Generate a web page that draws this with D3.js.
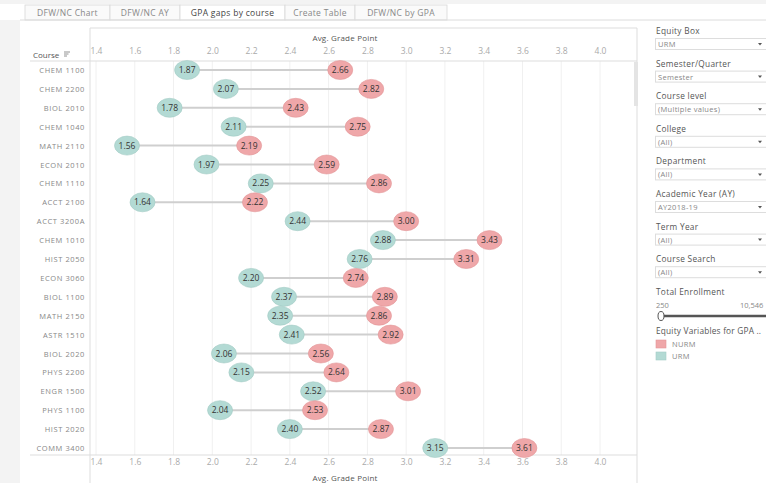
<!DOCTYPE html>
<html lang="en">
<head>
<meta charset="UTF-8">
<title>GPA gaps by course</title>
<script src="https://d3js.org/d3.v7.min.js"></script>
<style>
  body { margin: 0; background: #fff; }
  svg { display: block; font-family: "Open Sans", sans-serif; }
</style>
</head>
<body>
<div id="chart"></div>
<script>
// chart data
const courses = ["CHEM 1100", "CHEM 2200", "BIOL 2010", "CHEM 1040", "MATH 2110", "ECON 2010",
  "CHEM 1110", "ACCT 2100", "ACCT 3200A", "CHEM 1010", "HIST 2050", "ECON 3060", "BIOL 1100",
  "MATH 2150", "ASTR 1510", "BIOL 2020", "PHYS 2200", "ENGR 1500", "PHYS 1100", "HIST 2020", "COMM 3400"];
const urm = [1.87, 2.07, 1.78, 2.11, 1.56, 1.97, 2.25, 1.64, 2.44, 2.88, 2.76, 2.20, 2.37,
  2.35, 2.41, 2.06, 2.15, 2.52, 2.04, 2.40, 3.15];
const nurm = [2.66, 2.82, 2.43, 2.75, 2.19, 2.59, 2.86, 2.22, 3.00, 3.43, 3.31, 2.74, 2.89,
  2.86, 2.92, 2.56, 2.64, 3.01, 2.53, 2.87, 3.61];
const xTicks = [1.4, 1.6, 1.8, 2.0, 2.2, 2.4, 2.6, 2.8, 3.0, 3.2, 3.4, 3.6, 3.8, 4.0];
const tabs = ["DFW/NC Chart", "DFW/NC AY", "GPA gaps by course", "Create Table", "DFW/NC by GPA"];
const filterTitles = ["Equity Box", "Semester/Quarter", "Course level", "College", "Department",
  "Academic Year (AY)", "Term Year", "Course Search"];
const filterValues = ["URM", "Semester", "(Multiple values)", "(All)", "(All)", "AY2018-19", "(All)", "(All)"];
const legendLabels = ["NURM", "URM"];

const width = 766, height = 483;
const colURM = "#b3dad4", colNURM = "#efa7a9";

const svg = d3.select("#chart").append("svg")
  .attr("width", width).attr("height", height);

// background strips
svg.append("rect").attr("x", 0).attr("y", 0).attr("width", width).attr("height", 4).attr("fill", "#f3f3f3");
svg.append("rect").attr("x", 0).attr("y", 20).attr("width", 20).attr("height", height - 20).attr("fill", "#f3f3f3");

// tabs
const tabW = [85, 70, 105, 70, 92];
let tx = 25;
tabs.forEach((t, i) => {
  svg.append("rect").attr("x", tx).attr("y", 5).attr("width", tabW[i]).attr("height", 15)
    .attr("fill", i == 2 ? "#fff" : "#fafafa").attr("stroke", "#d8d8d8").attr("stroke-width", 0.8);
  svg.append("text").attr("x", tx + tabW[i] / 2).attr("y", 16).attr("text-anchor", "middle")
    .attr("font-size", 8.5).attr("letter-spacing", 0.3).attr("fill", i == 2 ? "#444" : "#888").text(t);
  tx += tabW[i];
});
svg.append("line").attr("x1", 20).attr("x2", width).attr("y1", 20).attr("y2", 20).attr("stroke", "#dcdcdc");

// scales
const x = d3.scaleLinear().domain([1.4, 4.0]).range([96, 600]);
const y = d3.scalePoint().domain(courses).range([70, 448]);

const plotL = 90, plotR = 637, headB = 61, axisY = 455;

// gridlines
svg.append("g").selectAll("line").data(xTicks).enter().append("line")
  .attr("x1", d => x(d)).attr("x2", d => x(d)).attr("y1", headB).attr("y2", axisY)
  .attr("stroke", "#f0f0f0");

// frame lines
svg.append("line").attr("x1", plotL).attr("x2", plotR).attr("y1", 28).attr("y2", 28).attr("stroke", "#ddd");
svg.append("line").attr("x1", plotL).attr("x2", plotL).attr("y1", 28).attr("y2", height).attr("stroke", "#ddd");
svg.append("line").attr("x1", plotR).attr("x2", plotR).attr("y1", 28).attr("y2", height).attr("stroke", "#ddd");
svg.append("line").attr("x1", 30).attr("x2", plotR).attr("y1", headB).attr("y2", headB).attr("stroke", "#ddd");
svg.append("line").attr("x1", 30).attr("x2", plotR).attr("y1", axisY).attr("y2", axisY).attr("stroke", "#ddd");

// scrollbar
svg.append("rect").attr("x", 634).attr("y", 62).attr("width", 4).attr("height", 44).attr("fill", "#e4e4e4");

// axis titles & ticks
svg.append("text").attr("x", 345).attr("y", 41).attr("text-anchor", "middle")
  .attr("font-size", 8).attr("letter-spacing", 0.2).attr("fill", "#555").text("Avg. Grade Point");
svg.append("text").attr("x", 345).attr("y", 481).attr("text-anchor", "middle")
  .attr("font-size", 8).attr("letter-spacing", 0.2).attr("fill", "#555").text("Avg. Grade Point");

const fmt = d3.format(".1f");
const topAxis = svg.append("g").attr("transform", "translate(0,54)")
  .call(d3.axisTop(x).tickValues(xTicks).tickFormat(fmt).tickSize(0).tickPadding(0));
const botAxis = svg.append("g").attr("transform", `translate(0,${axisY + 4})`)
  .call(d3.axisBottom(x).tickValues(xTicks).tickFormat(fmt).tickSize(0).tickPadding(0));
[topAxis, botAxis].forEach(a => {
  a.select(".domain").remove();
  a.selectAll("text").attr("font-size", 8.5).attr("fill", "#aaa").attr("font-family", "Open Sans, sans-serif");
});

// "Course" header with sort icon
svg.append("text").attr("x", 33).attr("y", 58).attr("font-size", 8).attr("fill", "#555").text("Course");
[6, 4.5, 3].forEach((w, i) => {
  svg.append("line").attr("x1", 64).attr("x2", 64 + w).attr("y1", 52 + i * 2).attr("y2", 52 + i * 2)
    .attr("stroke", "#777").attr("stroke-width", 0.8);
});

// row labels
svg.append("g").selectAll("text").data(courses).enter().append("text")
  .attr("x", 85).attr("y", d => y(d) + 3).attr("text-anchor", "end")
  .attr("font-size", 7.5).attr("letter-spacing", 0.6).attr("fill", "#888").text(d => d);

const rows = courses.map((c, i) => ({ course: c, urm: urm[i], nurm: nurm[i] }));

// connecting lines
svg.append("g").selectAll("line").data(rows).enter().append("line")
  .attr("x1", d => x(d.urm)).attr("x2", d => x(d.nurm))
  .attr("y1", d => y(d.course)).attr("y2", d => y(d.course))
  .attr("stroke", "#cfcfcf").attr("stroke-width", 2);

// dots
function drawDots(key, color, stroke) {
  const g = svg.append("g").selectAll("g").data(rows).enter().append("g")
    .attr("transform", d => `translate(${x(d[key])},${y(d.course)})`);
  g.append("ellipse").attr("rx", 12.5).attr("ry", 9.5)
    .attr("fill", color).attr("stroke", stroke).attr("stroke-width", 0.6);
  g.append("text").attr("y", 3).attr("text-anchor", "middle")
    .attr("font-size", 8.5).attr("fill", "#333").text(d => d[key].toFixed(2));
}
drawDots("urm", colURM, "#a3cbc5");
drawDots("nurm", colNURM, "#e39597");

// filter panel
filterTitles.forEach((t, i) => {
  const ty = 34 + i * 32.6;
  svg.append("text").attr("x", 656).attr("y", ty).attr("font-size", 8.3).attr("letter-spacing", 0.3)
    .attr("fill", "#555").text(t);
  svg.append("rect").attr("x", 655.5).attr("y", ty + 4.5).attr("width", 112).attr("height", 11)
    .attr("fill", "#fff").attr("stroke", "#ddd");
  svg.append("text").attr("x", 658).attr("y", ty + 13).attr("font-size", 7.5).attr("letter-spacing", 0.3)
    .attr("fill", "#888").text(filterValues[i]);
  svg.append("path").attr("d", `M758,${ty + 9} l4,0 l-2,2.5 z`).attr("fill", "#555");
});

// total enrollment slider
svg.append("text").attr("x", 656).attr("y", 295).attr("font-size", 8.3).attr("letter-spacing", 0.3)
  .attr("fill", "#555").text("Total Enrollment");
svg.append("text").attr("x", 656).attr("y", 308).attr("font-size", 7.5).attr("fill", "#888").text("250");
svg.append("text").attr("x", 740).attr("y", 308).attr("font-size", 7.5).attr("fill", "#888").text("10,546");
svg.append("line").attr("x1", 662).attr("x2", 766).attr("y1", 316).attr("y2", 316)
  .attr("stroke", "#555").attr("stroke-width", 2.5);
svg.append("ellipse").attr("cx", 661).attr("cy", 316).attr("rx", 3).attr("ry", 4.5)
  .attr("fill", "#fff").attr("stroke", "#555");

// legend
svg.append("text").attr("x", 656).attr("y", 334).attr("font-size", 8.3).attr("letter-spacing", 0.2)
  .attr("fill", "#555").text("Equity Variables for GPA ..");
legendLabels.forEach((l, i) => {
  svg.append("rect").attr("x", 656).attr("y", 340 + i * 12).attr("width", 10).attr("height", 8)
    .attr("fill", i == 0 ? colNURM : colURM).attr("stroke", i == 0 ? "#e39597" : "#a3cbc5").attr("stroke-width", 0.6);
  svg.append("text").attr("x", 672).attr("y", 347 + i * 12).attr("font-size", 7.5).attr("letter-spacing", 0.3)
    .attr("fill", "#888").text(l);
});
</script>
</body>
</html>
